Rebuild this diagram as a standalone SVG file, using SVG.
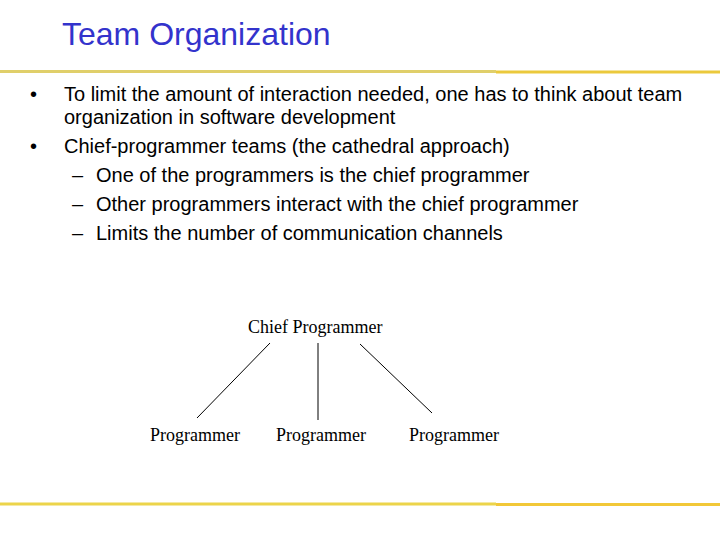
<svg xmlns="http://www.w3.org/2000/svg" width="720" height="540" viewBox="0 0 720 540">
<style>
.b{font-family:"Liberation Sans",Arial,sans-serif;font-size:20px;fill:#000}
.n{font-family:"Liberation Serif","Times New Roman",serif;font-size:18px;fill:#000}
.c{stroke:#000;stroke-width:1;fill:none}
</style>
<rect width="720" height="540" fill="#fff"/>
<text x="62" y="45" font-family="Liberation Sans,Arial,sans-serif" font-size="32" fill="#3333cc">Team Organization</text>
<line x1="0" y1="71.5" x2="496" y2="71.5" stroke="#e0cf6a" stroke-width="3"/>
<line x1="496" y1="72" x2="720" y2="72" stroke="#ebc93c" stroke-width="3"/>
<line x1="0" y1="504" x2="496" y2="504" stroke="#ecd44a" stroke-width="3"/>
<line x1="496" y1="504.5" x2="720" y2="504.5" stroke="#f2c838" stroke-width="3"/>
<text class="b" x="30" y="101">•</text>
<text class="b" x="64" y="101">To limit the amount of interaction needed, one has to think about team</text>
<text class="b" x="64" y="124">organization in software development</text>
<text class="b" x="30" y="153">•</text>
<text class="b" x="64" y="153">Chief-programmer teams (the cathedral approach)</text>
<text class="b" x="72" y="182">–</text>
<text class="b" x="96" y="182">One of the programmers is the chief programmer</text>
<text class="b" x="72" y="211">–</text>
<text class="b" x="96" y="211">Other programmers interact with the chief programmer</text>
<text class="b" x="72" y="240">–</text>
<text class="b" x="96" y="240">Limits the number of communication channels</text>
<g id="chief"><text class="n" x="248" y="333">Chief Programmer</text></g>
<g id="p1"><text class="n" x="150" y="441">Programmer</text></g>
<g id="p2"><text class="n" x="276" y="441">Programmer</text></g>
<g id="p3"><text class="n" x="409" y="441">Programmer</text></g>
<g id="connectors">
<line class="c" x1="270" y1="343" x2="197" y2="418"/>
<line class="c" x1="318" y1="343" x2="318" y2="420"/>
<line class="c" x1="360" y1="344" x2="432" y2="413"/>
</g>
</svg>
